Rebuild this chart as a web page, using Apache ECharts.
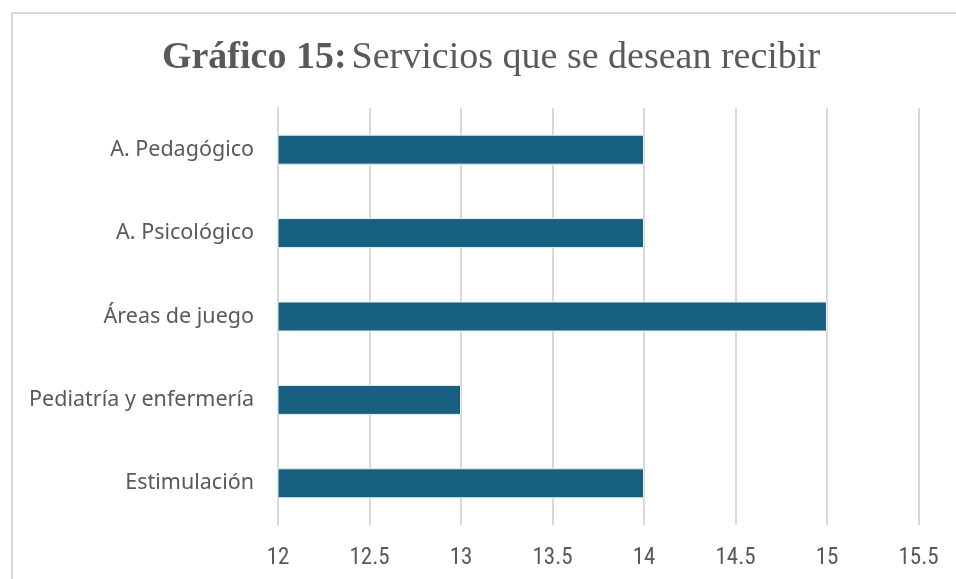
<!DOCTYPE html>
<html>
<head>
<meta charset="utf-8">
<script src="https://cdn.jsdelivr.net/npm/echarts@6/dist/echarts.min.js"></script>
<style>
  html, body { margin: 0; padding: 0; background: #fff; overflow: hidden; }
  .frame {
    position: absolute; left: 11px; top: 12px;
    width: 1000px; height: 600px;
    border: 2px solid #d9d9d9;
  }
  .chart { position: absolute; left: 0; top: 0; width: 956px; height: 579px; }
</style>
</head>
<body>
<div class="frame"></div>
<div class="chart" id="chart"></div>
<script>
  // Servicios que se desean recibir
  var categories = ['A. Pedagógico', 'A. Psicológico', 'Áreas de juego', 'Pediatría y enfermería', 'Estimulación']
  var values = [14, 14, 15, 13, 14]
  var xTicks = [12, 15.5, 0.5] // min, max, intervalo

  var chart = echarts.init(document.getElementById('chart'))
  chart.setOption({
    animation: false,
    title: {
      text: '{b|Gráfico 15:} {n|Servicios que se desean recibir}',
      left: 486,
      top: 34,
      textAlign: 'center',
      textStyle: {
        rich: {
          b: { fontFamily: 'Liberation Serif', fontWeight: 'bold', fontSize: 38, color: '#595959' },
          n: { fontFamily: 'Liberation Serif', fontWeight: 'normal', fontSize: 38, color: '#595959' }
        }
      }
    },
    grid: { left: 278, right: 37.5, top: 108, bottom: 54 },
    xAxis: {
      type: 'value',
      min: xTicks[0],
      max: xTicks[1],
      interval: xTicks[2],
      axisLine: { show: false },
      axisTick: { show: false },
      axisLabel: { color: '#595959', fontSize: 23, fontFamily: 'Roboto Condensed, Liberation Sans Narrow, Roboto', margin: 22 },
      splitLine: { show: true, lineStyle: { color: '#d9d9d9', width: 2 } }
    },
    yAxis: {
      type: 'category',
      data: categories,
      inverse: true,
      axisLine: { show: true, lineStyle: { color: '#d9d9d9', width: 2 } },
      axisTick: { show: false },
      axisLabel: { color: '#595959', fontSize: 21.5, fontFamily: 'Noto Sans', margin: 24 }
    },
    series: [
      {
        type: 'bar',
        data: values,
        barWidth: 30,
        itemStyle: { color: '#17607f', borderColor: '#e8f0f4', borderWidth: 1 }
      }
    ]
  })
</script>
</body>
</html>
